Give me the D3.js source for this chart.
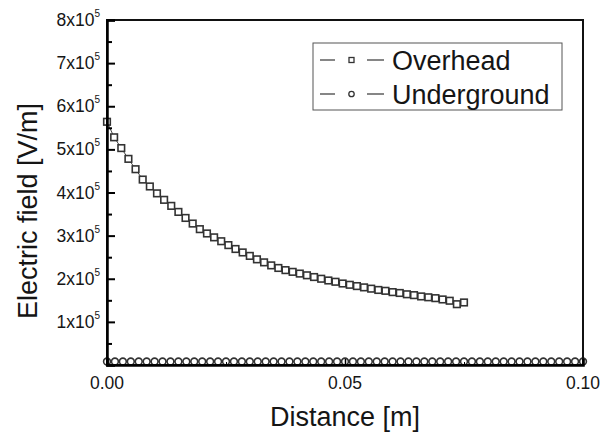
<!DOCTYPE html>
<html>
  <head>
    <script src="https://cdn.jsdelivr.net/npm/d3@7"></script>
    <style>
      body { margin: 0; background: #fff; }
      text { font-family: 'Liberation Sans', Arial, sans-serif; fill: #151515; }
    </style>
  </head>
  <body>
    <svg width="610" height="433"></svg>
    <script>
      // 数据：近似值
      const overheadX = d3.range(51).map((i) => i * 0.0015)
      const overheadY = [
        5.64, 5.28, 5.03, 4.78, 4.54, 4.3, 4.14, 3.98, 3.83, 3.69,
        3.55, 3.41, 3.28, 3.15, 3.05, 2.96, 2.87, 2.78, 2.69, 2.61,
        2.53, 2.45, 2.38, 2.31, 2.25, 2.2, 2.16, 2.12, 2.08, 2.04,
        2.0, 1.96, 1.93, 1.89, 1.86, 1.83, 1.8, 1.77, 1.74, 1.72,
        1.69, 1.67, 1.64, 1.62, 1.59, 1.57, 1.55, 1.52, 1.49, 1.41,
        1.45
      ].map((v) => v * 1e5)

      const undergroundX = d3.range(61).map((i) => i * 0.1 / 60)
      const undergroundY = undergroundX.map(() => 8000)

      const xTicks = [0, 0.05, 0.1]
      const xTickLabels = ['0.00', '0.05', '0.10']
      const yTicks = [1e5, 2e5, 3e5, 4e5, 5e5, 6e5, 7e5, 8e5]
      const yTickLabels = ['1', '2', '3', '4', '5', '6', '7', '8']

      const seriesNames = ['Overhead', 'Underground']

      const svg = d3.select('svg')
      const pLeft = 107, pRight = 583, pTop = 20, pBottom = 365

      const x = d3.scaleLinear().domain([0, 0.1]).range([pLeft, pRight])
      const y = d3.scaleLinear().domain([0, 8e5]).range([pBottom, pTop])

      // 连线
      const line = d3.line().x((d) => x(d[0])).y((d) => y(d[1]))
      const over = overheadX.map((v, i) => [v, overheadY[i]])
      const under = undergroundX.map((v, i) => [v, undergroundY[i]])

      svg.append('path').attr('d', line(over))
        .attr('fill', 'none').attr('stroke', '#444').attr('stroke-width', 1)
      svg.append('path').attr('d', line(under))
        .attr('fill', 'none').attr('stroke', '#444').attr('stroke-width', 1)

      // 标记
      svg.append('g').selectAll('rect').data(over).enter().append('rect')
        .attr('x', (d) => x(d[0]) - 3.3)
        .attr('y', (d) => y(d[1]) - 3.3)
        .attr('width', 6.6).attr('height', 6.6)
        .attr('fill', '#fff').attr('stroke', '#333').attr('stroke-width', 1.6)

      svg.append('g').selectAll('circle').data(under).enter().append('circle')
        .attr('cx', (d) => x(d[0]))
        .attr('cy', (d) => y(d[1]))
        .attr('r', 3.4)
        .attr('fill', '#fff').attr('stroke', '#333').attr('stroke-width', 1.6)

      // 边框
      svg.append('rect')
        .attr('x', pLeft).attr('y', pTop)
        .attr('width', pRight - pLeft).attr('height', pBottom - pTop)
        .attr('fill', 'none').attr('stroke', '#111').attr('stroke-width', 2)

      // y 轴刻度（向内）
      const yAxis = d3.axisRight(y).tickValues(yTicks).tickSize(8).tickFormat('')
      svg.append('g').attr('transform', `translate(${pLeft},0)`).call(yAxis)
        .call((g) => g.select('.domain').attr('stroke-width', 2.5))
        .call((g) => g.selectAll('line').attr('stroke-width', 2))
      const yMinor = d3.axisRight(y).tickValues(d3.range(8).map((i) => i * 1e5 + 5e4)).tickSize(5).tickFormat('')
      svg.append('g').attr('transform', `translate(${pLeft},0)`).call(yMinor)
        .call((g) => g.select('.domain').remove())
        .call((g) => g.selectAll('line').attr('stroke-width', 2))

      // y 轴标签 (Nx10^5)
      const yl = svg.append('g').selectAll('text').data(yTicks).enter().append('text')
        .attr('x', 100).attr('y', (d) => y(d) + 6)
        .attr('text-anchor', 'end').attr('font-size', 17.5)
      yl.append('tspan').text((d, i) => yTickLabels[i] + 'x10')
      yl.append('tspan').attr('font-size', 10).attr('dy', -9).text('5')

      // x 轴刻度
      const xAxis = d3.axisTop(x).tickValues(xTicks).tickSize(6).tickFormat('')
      svg.append('g').attr('transform', `translate(0,${pBottom})`).call(xAxis)
        .call((g) => g.select('.domain').attr('stroke-width', 2.5))
        .call((g) => g.selectAll('line').attr('stroke-width', 1.5))
      const xMinor = d3.axisTop(x).tickValues([0.025, 0.075]).tickSize(3).tickFormat('')
      svg.append('g').attr('transform', `translate(0,${pBottom})`).call(xMinor)
        .call((g) => g.select('.domain').remove())

      svg.append('g').selectAll('text').data(xTicks).enter().append('text')
        .attr('x', (d) => x(d)).attr('y', 389)
        .attr('text-anchor', 'middle').attr('font-size', 17.5)
        .text((d, i) => xTickLabels[i])

      // 轴标题
      svg.append('text').attr('x', x(0.05)).attr('y', 426)
        .attr('text-anchor', 'middle').attr('font-size', 27).text('Distance [m]')
      svg.append('text')
        .attr('transform', `translate(37,211) rotate(-90)`)
        .attr('text-anchor', 'middle').attr('font-size', 27).text('Electric field [V/m]')

      // 图例
      const lg = svg.append('g')
      lg.append('rect').attr('x', 313).attr('y', 43).attr('width', 249).attr('height', 67)
        .attr('fill', '#fff').attr('stroke', '#555').attr('stroke-width', 1)
      seriesNames.forEach((name, i) => {
        const cy = 60 + i * 34
        lg.append('line').attr('x1', 320).attr('x2', 335).attr('y1', cy).attr('y2', cy)
          .attr('stroke', '#444').attr('stroke-width', 1.3)
        lg.append('line').attr('x1', 367).attr('x2', 384).attr('y1', cy).attr('y2', cy)
          .attr('stroke', '#444').attr('stroke-width', 1.3)
        if (i === 0) {
          lg.append('rect').attr('x', 349).attr('y', cy - 2.5).attr('width', 5).attr('height', 5)
            .attr('fill', '#fff').attr('stroke', '#333').attr('stroke-width', 1.3)
        } else {
          lg.append('circle').attr('cx', 351.5).attr('cy', cy).attr('r', 2.7)
            .attr('fill', '#fff').attr('stroke', '#333').attr('stroke-width', 1.3)
        }
        lg.append('text').attr('x', 392).attr('y', cy + 10).attr('font-size', 27).text(name)
      })
    </script>
  </body>
</html>
